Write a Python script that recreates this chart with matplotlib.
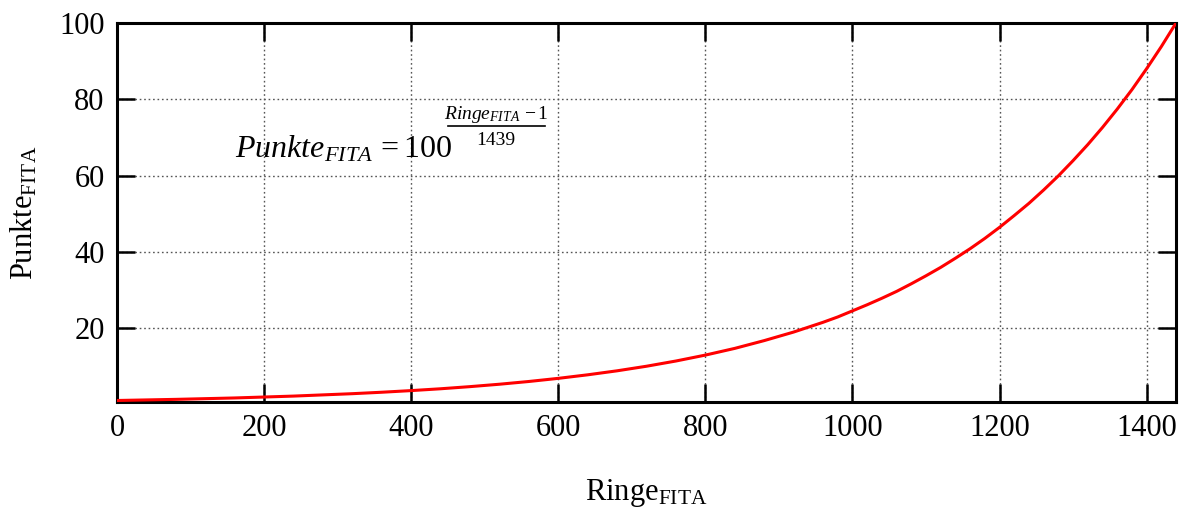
import numpy as np
import matplotlib.pyplot as plt
from matplotlib.lines import Line2D

plt.rcParams.update({'font.family': 'serif',
                     'font.serif': ['Liberation Serif', 'DejaVu Serif'],
                     'font.size': 22,
                     'mathtext.fontset': 'custom',
                     'mathtext.rm': 'Liberation Serif',
                     'mathtext.it': 'Liberation Serif:italic',
                     'mathtext.bf': 'Liberation Serif:bold',
                     'xtick.direction': 'in', 'ytick.direction': 'in'})

# values
ringe = [1, 80, 160, 240, 320, 360, 400, 440, 480, 520, 560, 600, 640, 680, 720,
         760, 800, 840, 880, 920, 960, 980, 1000, 1020, 1040, 1060, 1080, 1100,
         1120, 1140, 1160, 1180, 1200, 1220, 1240, 1260, 1280, 1300, 1320, 1340,
         1360, 1380, 1400, 1420, 1440]
punkte = [1.0, 1.29, 1.66, 2.15, 2.78, 3.16, 3.59, 4.07, 4.63, 5.26, 5.98, 6.80,
          7.73, 8.78, 9.98, 11.35, 12.9, 14.66, 16.7, 18.94, 21.5, 22.9, 24.5,
          26.1, 27.8, 29.6, 31.6, 33.7, 35.9, 38.3, 40.8, 43.5, 46.4, 49.5, 52.7,
          56.2, 59.9, 63.9, 68.1, 72.6, 77.4, 82.5, 88.0, 93.8, 100.0]

xticks = [0, 200, 400, 600, 800, 1000, 1200, 1400]
yticks = [20, 40, 60, 80, 100]

W, H = 1185, 513
fig = plt.figure(figsize=(W / 100, H / 100), dpi=100)
ax = fig.add_axes([117 / W, 1 - 402 / H, (1176 - 117) / W, (402 - 23) / H])
ax.plot(ringe, punkte, color='red', lw=2.2, zorder=3)
ax.set_xlim(0, 1440)
ax.set_ylim(0.6, 100)
ax.set_xticks(xticks)
ax.set_yticks(yticks)
ax.grid(True, color='#555555', linestyle=(0, (1.2, 2)), lw=1.0)
ax.tick_params(direction='in', length=13, width=1.8, top=True, right=True, pad=9)
for s in ax.spines.values():
    s.set_linewidth(2.2)

ax.set_xlabel(r'Ringe$_{\mathrm{FITA}}$', labelpad=24)
ax.set_ylabel(r'Punkte$_{\mathrm{FITA}}$', labelpad=14)

# formula: Punkte_FITA = 100^((Ringe_FITA - 1)/1439)
def px(x, y):
    return x / W, 1 - y / H

fig.text(*px(235, 158), r'$\mathit{Punkte}_{\mathit{FITA}}\,=100$', fontsize=23,
         va='baseline', ha='left')
fig.text(*px(496, 119), r'$\mathit{Ringe}_{\mathit{FITA}}\,-1$', fontsize=14,
         va='baseline', ha='center')
fig.text(*px(496, 145), '1439', fontsize=14, va='baseline', ha='center')
fig.add_artist(Line2D([448 / W, 545 / W], [1 - 126 / H, 1 - 126 / H],
                      color='black', lw=1.2))

fig.savefig('out.png', dpi=100)
